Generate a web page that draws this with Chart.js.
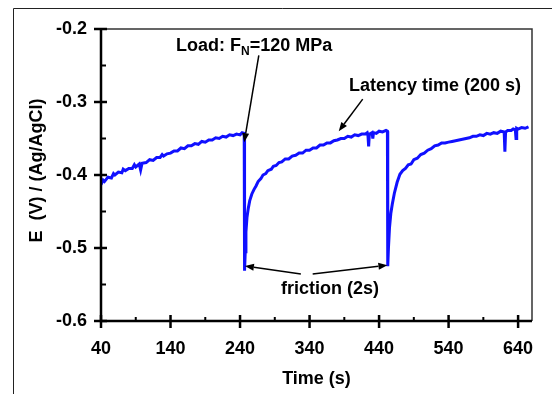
<!DOCTYPE html>
<html>
<head>
<meta charset="utf-8">
<script src="https://cdn.jsdelivr.net/npm/chart.js@4.4.1/dist/chart.umd.min.js"></script>
<style>
  html, body { margin: 0; padding: 0; background: #fff; }
  canvas { display: block; }
</style>
</head>
<body>
<canvas id="grafica" width="552" height="394"></canvas>
<script>
// --- Datos (tiempo en s, potencial en V vs Ag/AgCl) ---
const tiempo = [
  40, 43, 45, 50, 55, 58, 60, 65, 70, 72, 75, 80, 85, 88, 90, 95, 97, 99, 105, 110,
  115, 120, 125, 128, 130, 135, 140, 145, 150, 155, 160, 165, 170, 175, 180, 185, 190, 195, 200, 205,
  210, 215, 220, 225, 230, 235, 240, 243, 246,
  246.5, 247.5, 248.5, 250, 252, 254, 257, 260, 263, 266, 270, 273, 277, 280, 285, 288, 292, 296, 300,
  305, 310, 315, 320, 325, 330, 335, 340, 345, 350, 355, 360, 365, 370, 375, 380, 385, 390, 395, 400,
  405, 410, 415, 420, 423, 424, 425, 426, 430, 431, 432, 436, 440, 445, 450, 452,
  452.5, 453.5, 455, 457, 459, 462, 466, 470, 474, 478, 482, 486, 490, 495, 500, 505, 510, 515, 520, 525,
  530, 535, 540, 545, 550, 555, 560, 565, 570, 575, 580, 585, 590, 595, 600, 605, 610, 615, 620, 621,
  622, 625, 630, 633, 636, 637, 638, 640, 645, 650, 655
];
const potencial = [
  -0.413, -0.407, -0.409, -0.403, -0.404, -0.398, -0.400, -0.396, -0.397, -0.392, -0.394, -0.391, -0.391, -0.386, -0.389, -0.385, -0.393, -0.384, -0.383, -0.379,
  -0.380, -0.376, -0.376, -0.372, -0.374, -0.371, -0.370, -0.367, -0.367, -0.363, -0.364, -0.360, -0.360, -0.357, -0.358, -0.354, -0.355, -0.352, -0.352, -0.349,
  -0.350, -0.347, -0.348, -0.345, -0.346, -0.344, -0.345, -0.342, -0.343,
  -0.531, -0.505, -0.478, -0.458, -0.445, -0.435, -0.426, -0.420, -0.415, -0.409, -0.405, -0.400, -0.398, -0.394, -0.392, -0.388, -0.387, -0.383, -0.382,
  -0.378, -0.378, -0.374, -0.373, -0.370, -0.370, -0.366, -0.366, -0.363, -0.363, -0.359, -0.359, -0.356, -0.356, -0.353, -0.352, -0.350, -0.350, -0.347, -0.348,
  -0.345, -0.346, -0.344, -0.344, -0.342, -0.345, -0.361, -0.344, -0.342, -0.350, -0.342, -0.343, -0.340, -0.341, -0.339, -0.340,
  -0.525, -0.500, -0.472, -0.452, -0.440, -0.425, -0.410, -0.399, -0.394, -0.391, -0.386, -0.385, -0.379, -0.377, -0.372, -0.370, -0.366, -0.364, -0.360, -0.359,
  -0.356, -0.356, -0.355, -0.354, -0.353, -0.352, -0.351, -0.350, -0.349, -0.347, -0.347, -0.345, -0.346, -0.343, -0.344, -0.342, -0.343, -0.340, -0.341, -0.368,
  -0.341, -0.339, -0.339, -0.337, -0.338, -0.350, -0.336, -0.337, -0.335, -0.336, -0.334
];

const xTicks = [40, 140, 240, 340, 440, 540, 640];
const xMinor = [90, 190, 290, 390, 490, 590];
const yTicks = [-0.6, -0.5, -0.4, -0.3, -0.2];
const yMinor = [-0.55, -0.45, -0.35, -0.25];

const fuente = "'Liberation Sans', Arial, sans-serif";

// --- Flecha con punta rellena ---
function flecha(ctx, x1, y1, x2, y2) {
    const ang = Math.atan2(y2 - y1, x2 - x1);
    const largo = 9, ancho = 3.5;
    const bx = x2 - largo * Math.cos(ang), by = y2 - largo * Math.sin(ang);
    ctx.beginPath();
    ctx.moveTo(x1, y1);
    ctx.lineTo(bx, by);
    ctx.stroke();
    ctx.beginPath();
    ctx.moveTo(x2, y2);
    ctx.lineTo(bx + ancho * Math.sin(ang), by - ancho * Math.cos(ang));
    ctx.lineTo(bx - ancho * Math.sin(ang), by + ancho * Math.cos(ang));
    ctx.closePath();
    ctx.fill();
}

// --- Marco, ticks, títulos y anotaciones ---
const decoracion = {
    id: 'decoracion',
    beforeDraw(chart) {
        const ctx = chart.ctx;
        ctx.save();
        ctx.fillStyle = '#fff';
        ctx.fillRect(0, 0, chart.width, chart.height);
        // marco exterior de la figura
        ctx.strokeStyle = '#222';
        ctx.lineWidth = 1;
        ctx.beginPath();
        ctx.moveTo(13.5, 394);
        ctx.lineTo(13.5, 8.5);
        ctx.lineTo(552, 8.5);
        ctx.stroke();
        ctx.restore();
    },
    afterDatasetsDraw(chart) {
        const ctx = chart.ctx;
        const { left, right, top, bottom } = chart.chartArea;
        const sx = chart.scales.x, sy = chart.scales.y;
        ctx.save();

        // marco superior y derecho (fino)
        ctx.strokeStyle = '#333';
        ctx.lineWidth = 1.5;
        ctx.beginPath();
        ctx.moveTo(left, top);
        ctx.lineTo(right, top);
        ctx.lineTo(right, bottom);
        ctx.stroke();

        // ejes principales
        ctx.strokeStyle = '#000';
        ctx.lineWidth = 2.5;
        ctx.beginPath();
        ctx.moveTo(left, top);
        ctx.lineTo(left, bottom);
        ctx.lineTo(right, bottom);
        ctx.stroke();

        // ticks mayores (cruzan el eje) y menores (hacia dentro)
        yTicks.forEach(v => {
            const p = sy.getPixelForValue(v);
            ctx.beginPath(); ctx.moveTo(left - 7, p); ctx.lineTo(left + 6, p); ctx.stroke();
        });
        xTicks.forEach(v => {
            const p = sx.getPixelForValue(v);
            ctx.beginPath(); ctx.moveTo(p, bottom - 6); ctx.lineTo(p, bottom + 7); ctx.stroke();
        });
        ctx.lineWidth = 2;
        yMinor.forEach(v => {
            const p = sy.getPixelForValue(v);
            ctx.beginPath(); ctx.moveTo(left, p); ctx.lineTo(left + 5, p); ctx.stroke();
        });
        xMinor.forEach(v => {
            const p = sx.getPixelForValue(v);
            ctx.beginPath(); ctx.moveTo(p, bottom); ctx.lineTo(p, bottom - 4); ctx.stroke();
        });

        // títulos de ejes
        ctx.fillStyle = '#000';
        ctx.font = `bold 18px ${fuente}`;
        ctx.textAlign = 'center';
        ctx.textBaseline = 'alphabetic';
        ctx.fillText('Time (s)', (left + right) / 2, 384);
        ctx.save();
        ctx.translate(42, 170.5);
        ctx.rotate(-Math.PI / 2);
        ctx.fillText('E  (V) / (Ag/AgCl)', 0, 0);
        ctx.restore();

        // anotaciones
        ctx.textAlign = 'left';
        let x = 176;
        ctx.font = `bold 18px ${fuente}`;
        ctx.fillText('Load: F', x, 50.5);
        x += ctx.measureText('Load: F').width;
        ctx.font = `bold 12px ${fuente}`;
        ctx.fillText('N', x, 55);
        x += ctx.measureText('N').width;
        ctx.font = `bold 18px ${fuente}`;
        ctx.fillText('=120 MPa', x, 50.5);

        ctx.fillText('Latency time (200 s)', 349, 91);
        ctx.fillText('friction (2s)', 281, 294);

        ctx.fillStyle = '#000';
        ctx.strokeStyle = '#000';
        ctx.lineWidth = 1.5;
        const px = v => sx.getPixelForValue(v), py = v => sy.getPixelForValue(v);
        flecha(ctx, px(267), py(-0.236), px(246), py(-0.355));
        flecha(ctx, px(416.5), py(-0.296), px(382), py(-0.340));
        flecha(ctx, px(327.5), py(-0.5355), px(247), py(-0.5245));
        flecha(ctx, px(344.5), py(-0.5355), px(452), py(-0.5235));

        ctx.restore();
    }
};

const puntos = tiempo.map((t, i) => ({ x: t, y: potencial[i] }));

new Chart(document.getElementById('grafica'), {
    type: 'line',
    data: {
        datasets: [{
            data: puntos,
            borderColor: '#1010ff',
            borderWidth: 3,
            pointRadius: 0,
            tension: 0,
            fill: false
        }]
    },
    options: {
        responsive: false,
        animation: false,
        events: [],
        layout: { padding: { top: 29, right: 20, left: 0, bottom: 0 } },
        plugins: { legend: { display: false }, tooltip: { enabled: false } },
        scales: {
            x: {
                type: 'linear',
                min: 40,
                max: 660,
                afterBuildTicks: s => { s.ticks = xTicks.map(v => ({ value: v })); },
                afterFit: s => { s.height = 73; },
                border: { display: false },
                grid: { display: false, drawTicks: false },
                ticks: {
                    color: '#000',
                    padding: 17,
                    maxRotation: 0,
                    autoSkip: false,
                    font: { family: fuente, size: 18, weight: 'bold' },
                    callback: v => String(v)
                }
            },
            y: {
                min: -0.6,
                max: -0.2,
                afterBuildTicks: s => { s.ticks = yTicks.map(v => ({ value: v })); },
                afterFit: s => { s.width = 101; },
                border: { display: false },
                grid: { display: false, drawTicks: false },
                ticks: {
                    color: '#000',
                    padding: 14,
                    autoSkip: false,
                    font: { family: fuente, size: 18, weight: 'bold' },
                    callback: v => v.toFixed(1)
                }
            }
        }
    },
    plugins: [decoracion]
});
</script>
</body>
</html>
